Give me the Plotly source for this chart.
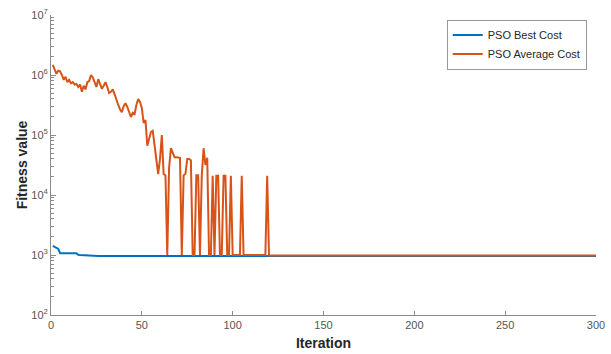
import plotly.graph_objects as go

# Best cost (vertices: iteration, value)
best_iter = [1, 2, 3, 4, 5, 14, 15, 16, 20, 26, 300]
best_cost = [1420, 1380, 1320, 1260, 1070, 1065, 1010, 1000, 985, 960, 960]

# Average cost: iteration 1..125, then flat tail
avg_iter = list(range(1, 126)) + [300]
avg_log = [
    6.17, 6.10, 6.02, 6.07, 6.06, 6.00, 5.92, 5.97, 5.88, 5.92,
    5.86, 5.88, 5.84, 5.85, 5.80, 5.84, 5.72, 5.82, 5.76, 5.88,
    5.90, 6.00, 5.96, 5.88, 5.80, 5.93, 5.85, 5.77, 5.82, 5.88,
    5.80, 5.70, 5.72, 5.76, 5.68, 5.58, 5.50, 5.43, 5.38, 5.48,
    5.53, 5.47, 5.38, 5.30, 5.37, 5.35, 5.50, 5.60, 5.55, 5.45,
    5.20, 5.25, 4.82, 4.95, 5.05, 5.07, 4.80, 4.60, 4.35, 4.60,
    5.00, 4.35, 4.33, 3.00, 4.45, 4.78, 4.70, 4.63, 4.63, 4.62,
    4.62, 3.00, 4.33, 4.35, 4.60, 4.60, 4.58, 3.00, 3.00, 4.33,
    4.33, 3.00, 4.33, 4.78, 4.50, 4.62, 3.00, 3.00, 4.32, 3.00,
    4.32, 4.32, 3.00, 3.00, 4.32, 4.32, 3.00, 3.00, 4.32, 3.00,
    3.00, 3.00, 3.00, 3.00, 4.32, 3.00, 3.00, 3.00, 3.00, 3.00,
    3.00, 3.00, 3.00, 3.00, 3.00, 3.00, 3.00, 3.00, 4.32, 2.99,
    2.99, 2.99, 2.99, 2.99, 2.99, 2.99,
]
avg_cost = [10 ** v for v in avg_log]

x_ticks = [0, 50, 100, 150, 200, 250, 300]
y_tickvals = [1e2, 1e3, 1e4, 1e5, 1e6, 1e7]
y_ticktext = ["10<sup>2</sup>", "10<sup>3</sup>", "10<sup>4</sup>",
              "10<sup>5</sup>", "10<sup>6</sup>", "10<sup>7</sup>"]
y_minor = [m * 10 ** d for d in range(2, 7) for m in range(2, 10)]

fig = go.Figure()
fig.add_trace(go.Scatter(x=best_iter, y=best_cost, mode="lines",
                         name="PSO Best Cost",
                         line=dict(color="#0072BD", width=2)))
fig.add_trace(go.Scatter(x=avg_iter, y=avg_cost, mode="lines",
                         name="PSO Average Cost", yaxis="y2",
                         line=dict(color="#D95319", width=2)))

axis_col = "#8a8a8a"
tick_font = dict(family="Liberation Sans, Arial, sans-serif", size=11, color="#555555")
title_font = dict(family="Liberation Sans, Arial, sans-serif", size=14, color="#262626")

fig.update_layout(
    width=611, height=354,
    margin=dict(l=51, r=15, t=15, b=39),
    paper_bgcolor="white", plot_bgcolor="white",
    showlegend=True,
    legend=dict(x=0.983, y=0.985, xanchor="right", yanchor="top",
                bgcolor="white", bordercolor="#999999", borderwidth=1,
                font=dict(family="Liberation Sans, Arial, sans-serif", size=11, color="#262626"),
                tracegroupgap=0, itemwidth=30),
    xaxis=dict(range=[0, 300], tickvals=x_ticks, ticks="inside", ticklen=4,
               tickcolor=axis_col, showline=True, linecolor=axis_col, linewidth=1,
               showgrid=False, zeroline=False, tickfont=tick_font, automargin=False,
               title=dict(text="<b>Iteration</b>", font=title_font, standoff=7)),
    yaxis=dict(type="log", range=[2, 7], tickvals=y_tickvals, ticktext=y_ticktext,
               ticks="inside", ticklen=5, tickcolor=axis_col,
               showline=True, linecolor=axis_col, linewidth=1,
               showgrid=False, zeroline=False, tickfont=tick_font, automargin=False,
               title=dict(text="<b>Fitness value</b>", font=title_font, standoff=0)),
    yaxis2=dict(type="log", range=[2, 7], overlaying="y", side="left",
                tickvals=y_minor, ticktext=[""] * len(y_minor),
                ticks="inside", ticklen=3, tickcolor=axis_col,
                showline=False, showgrid=False, zeroline=False, automargin=False),
)

fig.write_html("out.html", config={"displayModeBar": False},
               post_script="document.body.style.margin='0';")
